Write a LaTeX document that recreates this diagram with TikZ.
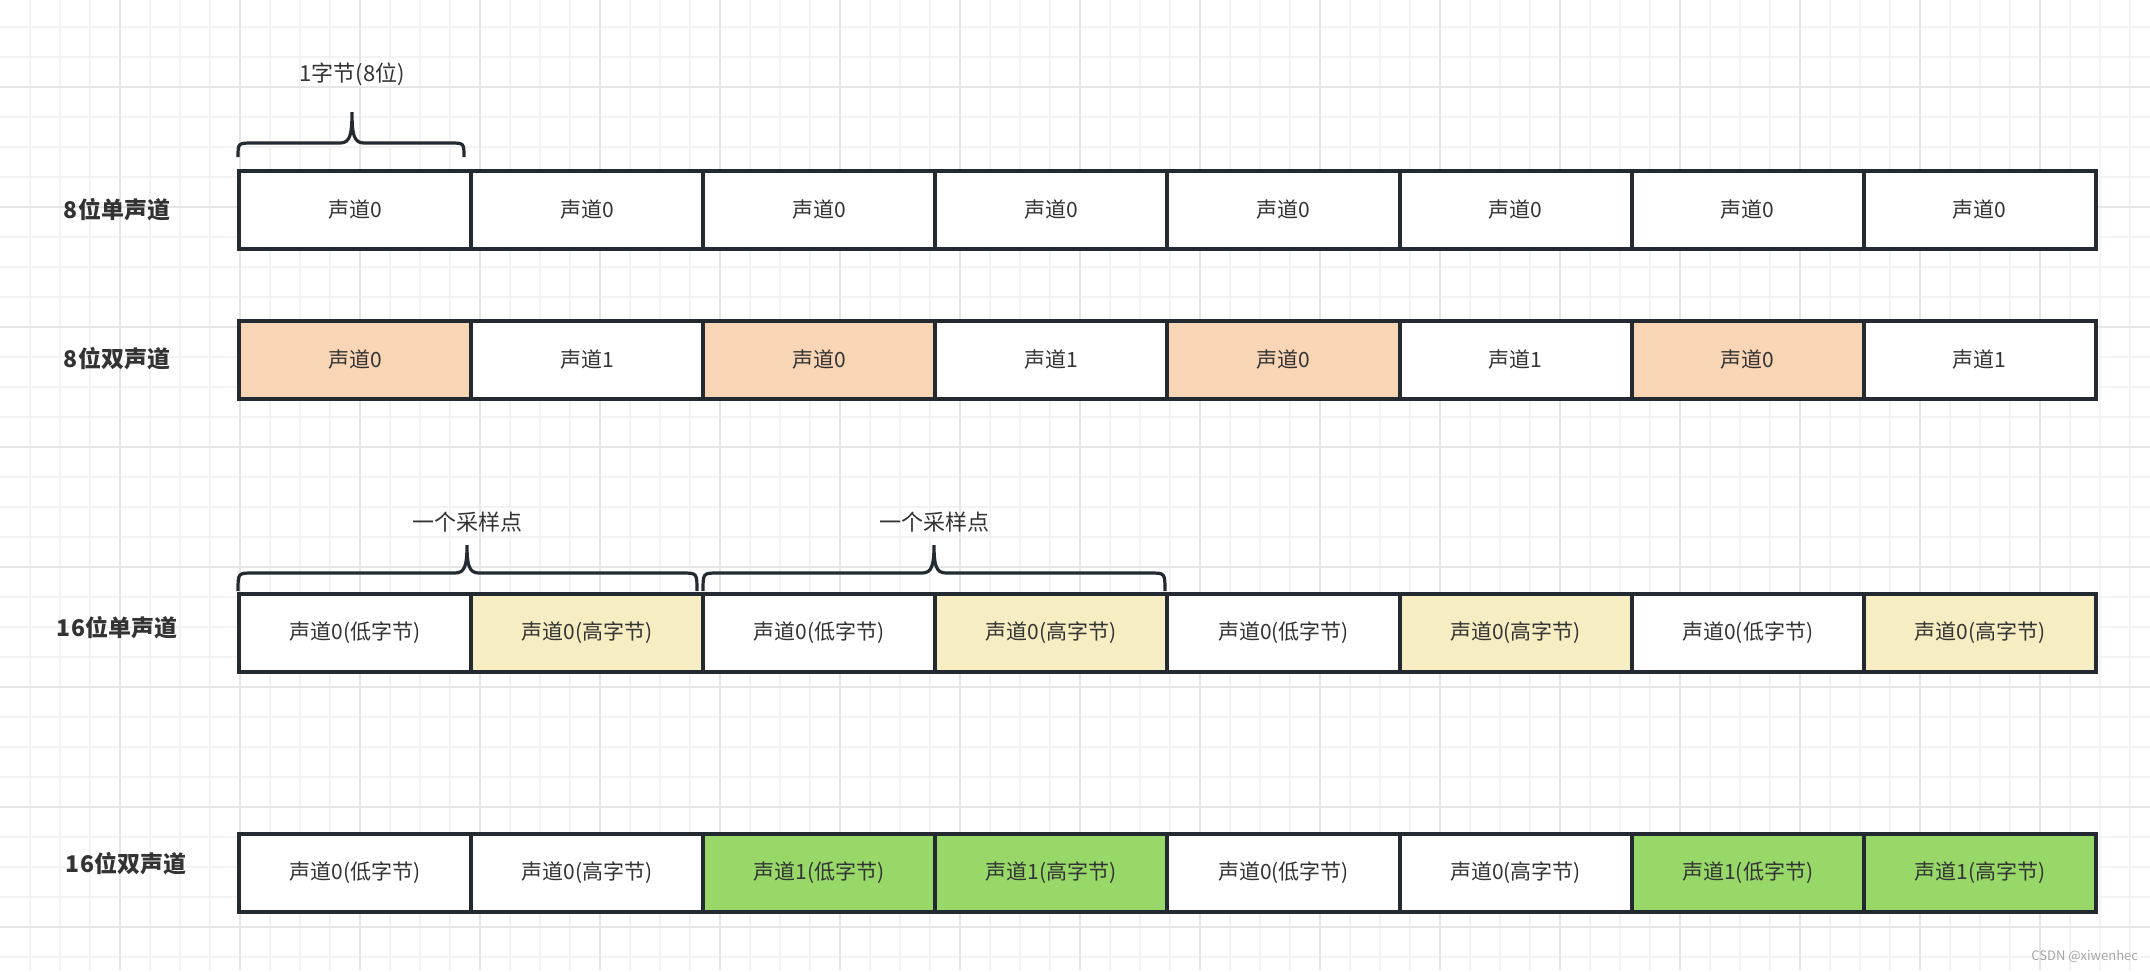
\documentclass[tikz,border=0pt]{standalone}
\usepackage{fontspec}
\setmainfont{Noto Sans CJK SC}
\begin{document}
\begin{tikzpicture}[x=0.5pt,y=-0.5pt,
  cell/.style={draw=bord,line width=2pt,minimum width=116.05pt,minimum height=39pt,anchor=north west,inner sep=0,font=\fontsize{10.5}{12}\selectfont,text=txt},
  lab/.style={font=\fontsize{11.5}{13}\selectfont\bfseries,text=txt},
  brace/.style={draw=bord,line width=1.6pt},
  note/.style={font=\fontsize{11}{13}\selectfont,text=txt}]
\definecolor{bord}{HTML}{232A31}
\definecolor{txt}{HTML}{333333}
\definecolor{org}{HTML}{F8D5B4}
\definecolor{yel}{HTML}{F6EDC3}
\definecolor{grn}{HTML}{97D869}
\definecolor{gmin}{HTML}{F3F3F3}
\definecolor{gmaj}{HTML}{E6E6E6}
\useasboundingbox (0,0) rectangle (2150,971);
\fill[white] (0,0) rectangle (2150,971);
\foreach \i in {1,...,71}{\draw[gmin,line width=0.6pt] (30*\i,0) -- (30*\i,971);}
\foreach \i in {0,...,32}{\draw[gmin,line width=0.6pt] (0,27+30*\i) -- (2150,27+30*\i);}
\foreach \i in {1,...,17}{\draw[gmaj,line width=0.8pt] (120*\i,0) -- (120*\i,971);}
\foreach \i in {0,...,7}{\draw[gmaj,line width=0.8pt] (0,87+120*\i) -- (2150,87+120*\i);}
% labels
\node[lab] (l1) at (117,210) {8位单声道};
\node[lab] (l2) at (117,359) {8位双声道};
\node[lab] (l3) at (117,628) {16位单声道};
\node[lab] (l4) at (126,864) {16位双声道};
% row 1
\foreach \i in {0,...,7}{\node[cell,fill=white] (a\i) at (237+232.1*\i,169) {声道0};}
% row 2
\foreach \i/\t/\c in {0/声道0/org,1/声道1/white,2/声道0/org,3/声道1/white,4/声道0/org,5/声道1/white,6/声道0/org,7/声道1/white}{\node[cell,fill=\c] (b\i) at (237+232.1*\i,319) {\t};}
% row 3
\foreach \i/\t/\c in {0/声道0(低字节)/white,1/声道0(高字节)/yel,2/声道0(低字节)/white,3/声道0(高字节)/yel,4/声道0(低字节)/white,5/声道0(高字节)/yel,6/声道0(低字节)/white,7/声道0(高字节)/yel}{\node[cell,fill=\c] (c\i) at (237+232.1*\i,592) {\t};}
% row 4
\foreach \i/\t/\c in {0/声道0(低字节)/white,1/声道0(高字节)/white,2/声道1(低字节)/grn,3/声道1(高字节)/grn,4/声道0(低字节)/white,5/声道0(高字节)/white,6/声道1(低字节)/grn,7/声道1(高字节)/grn}{\node[cell,fill=\c] (d\i) at (237+232.1*\i,832) {\t};}
% braces
\draw[brace] (238,157) .. controls (238,143) .. (253,143) -- (340,143) .. controls (350,143) and (352,135) .. (352,112)
  .. controls (352,135) and (354,143) .. (364,143) -- (450,143) .. controls (464,143) .. (464,157);
\node[note] (n1) at (352,74) {1字节(8位)};
\draw[brace] (238,591) .. controls (238,573) .. (253,573) -- (455,573) .. controls (465,573) and (467,565) .. (467,545)
  .. controls (467,565) and (469,573) .. (479,573) -- (682,573) .. controls (697,573) .. (697,591);
\node[note] (n2) at (467,522) {一个采样点};
\draw[brace] (703,591) .. controls (703,573) .. (718,573) -- (922,573) .. controls (932,573) and (934,565) .. (934,545)
  .. controls (934,565) and (936,573) .. (946,573) -- (1150,573) .. controls (1165,573) .. (1165,591);
\node[note] (n3) at (934,522) {一个采样点};
\node[font=\fontsize{6.5}{8}\selectfont,text=gray!70,anchor=east] (wm) at (2145,956) {CSDN @xiwenhec};
\end{tikzpicture}
\end{document}
